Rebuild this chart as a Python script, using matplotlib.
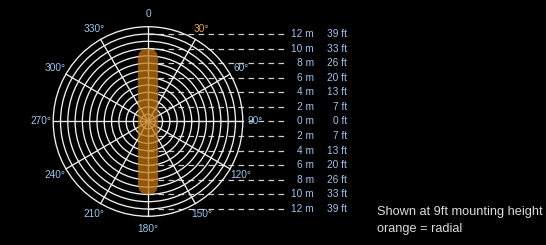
import numpy as np
import matplotlib
matplotlib.use("Agg")
import matplotlib.pyplot as plt
from matplotlib.patches import Circle, FancyBboxPatch

plt.rcParams['font.family'] = ['Liberation Sans', 'DejaVu Sans']

# ---- data ----
ring_radii_m = [1, 2, 3, 4, 5, 6, 7, 8, 9, 10, 11, 12, 13]
spoke_angles_deg = [0, 30, 60, 90, 120, 150, 180, 210, 240, 270, 300, 330]
angle_labels = ['0', '30°', '60°', '90°', '120°', '150°', '180°', '210°', '240°', '270°', '300°', '330°']
row_positions_m = [12, 10, 8, 6, 4, 2, 0, -2, -4, -6, -8, -10, -12]
row_m_labels = ['12 m', '10 m', '8 m', '6 m', '4 m', '2 m', '0 m', '2 m', '4 m', '6 m', '8 m', '10 m', '12 m']
row_ft_labels = ['39 ft', '33 ft', '26 ft', '20 ft', '13 ft', '7 ft', '0 ft', '7 ft', '13 ft', '20 ft', '26 ft', '33 ft', '39 ft']
beam_reach_m = [10.0, -10.0]   # top, bottom extent of radial beam
beam_halfwidth_m = 1.38
notes = ['Shown at 9ft mounting height', 'orange = radial']

# ---- figure ----
W, H, DPI = 546, 245, 100
S = 7.29        # pixels per metre
CX, CY = 148, 121.5
fig = plt.figure(figsize=(W / DPI, H / DPI), dpi=DPI, facecolor='black')
ax = fig.add_axes([0, 0, 1, 1])
ax.set_facecolor('black')
ax.set_xlim(-CX / S, (W - CX) / S)
ax.set_ylim(-(H - CY) / S, CY / S)
ax.set_aspect('equal')
ax.axis('off')

label_blue = '#9ec4ee'
grid_col = '#f0f0f0'

# dashed guide rows
x_end = (285 - CX) / S
for y in row_positions_m:
    ax.plot([0, x_end], [y, y], color='#cfcfcf', lw=0.9, ls=(0, (4.5, 3.5)), zorder=1)

# rings
for r in ring_radii_m:
    ax.add_patch(Circle((0, 0), r, fill=False, ec=grid_col, lw=0.95, zorder=2))

# spokes
rmax = max(ring_radii_m)
for a in spoke_angles_deg:
    t = np.deg2rad(a)
    ax.plot([0, rmax * np.sin(t)], [0, rmax * np.cos(t)], color=grid_col, lw=0.95, zorder=2)

# beam
top, bot = beam_reach_m
w = beam_halfwidth_m
beam = FancyBboxPatch((0, bot + w), 0, (top - bot) - 2 * w,
                      boxstyle=f"round,pad={w},rounding_size={w}",
                      fc='#c27612', ec='none', alpha=0.74, zorder=3)
ax.add_patch(beam)

# angle labels
lr = 14.7
for a, lab in zip(spoke_angles_deg, angle_labels):
    t = np.deg2rad(a)
    col = '#e2a450' if a == 30 else label_blue
    ax.text(lr * np.sin(t), lr * np.cos(t), lab, color=col, fontsize=7.3,
            ha='center', va='center', zorder=4)

# right column labels
xm = (314 - CX) / S
xf = (347 - CX) / S
for y, ml, fl in zip(row_positions_m, row_m_labels, row_ft_labels):
    ax.text(xm, y, ml, color=label_blue, fontsize=7.3, ha='right', va='center', zorder=4)
    ax.text(xf, y, fl, color=label_blue, fontsize=7.3, ha='right', va='center', zorder=4)

# notes
xn = (377 - CX) / S
for i, n in enumerate(notes):
    ax.text(xn, -(212 - CY + i * 17) / S, n, color='#dcdcdc', fontsize=9.2,
            ha='left', va='center', zorder=4)

fig.savefig('out.png', dpi=DPI, facecolor='black')
